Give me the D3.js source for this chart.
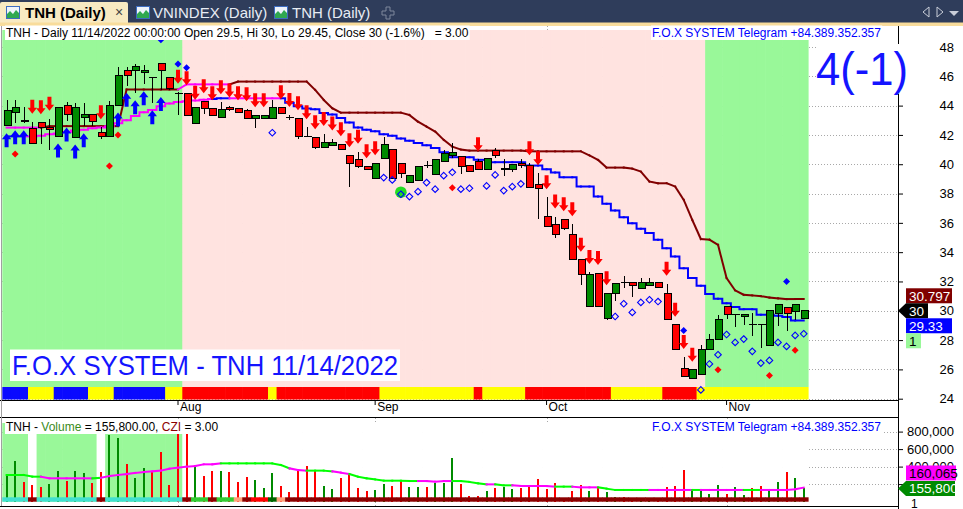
<!DOCTYPE html>
<html>
<head>
<meta charset="utf-8">
<title>TNH (Daily)</title>
<script src="https://cdn.jsdelivr.net/npm/d3@7"></script>
<style>
  html, body { margin: 0; padding: 0; background: #fff; }
  svg { display: block; font-family: "Liberation Sans", Arial, sans-serif; }
</style>
</head>
<body>
<svg id="chart" width="963" height="509"></svg>
<script>
// daily bars, Jul 4 .. Nov 14 2022
const open = [42.64, 43.52, 42.95, 42.45, 42.86, 42.48, 41.9, 44.02, 41.82, 43.18,
  43.4, 42.18, 41.89, 44.0, 46.41, 46.39, 46.27, 45.93, 46.89, 45.95,
  44.84, 44.84, 42.8, 44.3, 43.82, 43.2, 43.89, 43.82, 43.68, 43.11,
  43.11, 43.11, 43.89, 43.2, 43.14, 41.89, 41.84, 41.16, 41.3, 41.36,
  40.61, 40.3, 39.86, 39.05, 40.36, 40.98, 40.07, 38.75, 38.89, 39.93,
  39.27, 40.18, 40.59, 40.52, 39.89, 40.2, 39.61, 40.93, 39.68, 39.66,
  40.07, 39.89, 38.59, 36.43, 35.91, 36.25, 35.23, 33.48, 30.3, 32.57,
  29.5, 31.2, 31.93, 31.93, 31.55, 31.75, 31.93, 31.16, 29.05, 26.09,
  25.41, 25.64, 27.39, 28.02, 30.3, 29.73, 29.61, 29.05, 29.05, 27.61,
  29.8, 30.25, 29.95, 29.5];
const high = [44.39, 44.39, 43.9, 42.9, 42.86, 43.1, 43.86, 44.27, 44.2, 44.16,
  43.4, 42.52, 44.34, 46.66, 46.66, 46.84, 46.77, 45.93, 46.89, 45.95,
  44.95, 44.84, 43.86, 44.3, 43.82, 44.23, 44.0, 43.82, 43.75, 43.34,
  43.34, 44.39, 43.89, 43.36, 43.14, 42.52, 41.84, 42.07, 41.75, 41.36,
  40.61, 40.86, 39.86, 40.07, 41.84, 40.98, 40.07, 39.25, 39.84, 40.23,
  40.34, 40.98, 41.43, 40.52, 39.89, 40.34, 40.41, 41.09, 40.34, 40.0,
  40.34, 40.07, 39.39, 37.75, 36.43, 36.25, 35.91, 33.48, 32.64, 32.57,
  31.2, 31.89, 32.39, 31.93, 32.23, 32.23, 31.93, 31.84, 29.05, 26.84,
  25.98, 27.68, 28.43, 29.73, 30.3, 29.73, 29.77, 29.84, 29.05, 30.0,
  30.41, 30.25, 30.45, 30.0];
const low = [42.6, 42.8, 42.8, 41.43, 41.4, 41.0, 41.9, 42.98, 41.82, 42.6,
  42.6, 41.7, 41.89, 44.0, 45.36, 44.84, 45.45, 44.16, 45.07, 45.07,
  43.36, 43.3, 42.8, 43.43, 43.3, 43.2, 43.66, 43.55, 43.14, 42.5,
  43.11, 43.11, 43.43, 43.0, 41.73, 41.89, 41.05, 41.16, 41.3, 41.02,
  38.48, 39.73, 39.66, 39.05, 40.36, 39.05, 39.05, 38.75, 38.89, 39.77,
  39.27, 40.18, 40.45, 39.3, 39.5, 39.61, 39.61, 40.41, 39.2, 39.5,
  39.73, 38.43, 36.25, 35.75, 35.0, 35.52, 33.48, 31.73, 30.3, 30.3,
  29.39, 30.64, 31.55, 30.91, 31.55, 31.75, 31.61, 29.43, 27.39, 25.52,
  25.41, 25.64, 27.39, 28.02, 29.43, 28.89, 29.05, 28.25, 27.45, 27.61,
  28.93, 28.64, 29.39, 29.45];
const close = [43.64, 43.9, 42.95, 41.43, 42.52, 42.34, 43.86, 43.39, 43.86, 43.4,
  42.9, 41.89, 44.02, 46.07, 46.05, 46.7, 46.41, 45.93, 46.43, 45.18,
  44.84, 43.3, 43.86, 43.82, 43.34, 43.75, 43.75, 43.55, 43.14, 43.34,
  43.34, 43.89, 43.43, 43.2, 41.89, 41.89, 41.14, 41.5, 41.5, 41.02,
  40.07, 39.84, 39.66, 40.07, 41.36, 39.05, 39.39, 39.25, 39.84, 39.93,
  40.34, 40.75, 40.82, 39.86, 39.5, 39.63, 40.41, 40.57, 39.68, 40.0,
  39.89, 38.43, 38.36, 35.75, 35.23, 35.64, 33.48, 32.45, 32.5, 30.3,
  31.2, 31.89, 31.93, 31.75, 31.93, 31.93, 31.61, 29.43, 27.39, 25.52,
  25.98, 27.39, 28.02, 29.39, 29.73, 29.73, 29.77, 29.05, 29.05, 30.0,
  30.41, 29.8, 30.45, 30.0];
const volume = [304000, 464000, 228000, 190000, 163000, 201000, 350000, 235000, 350000, 323000,
  216000, 338000, 761000, 723000, 430000, 266000, 380000, 342000, 567000, 190000,
  773000, 773000, 418000, 293000, 350000, 350000, 342000, 228000, 285000, 247000,
  152000, 323000, 178000, 114000, 354000, 411000, 350000, 178000, 140000, 266000,
  331000, 152000, 121000, 133000, 201000, 178000, 235000, 171000, 171000, 171000,
  216000, 216000, 495000, 201000, 64000, 64000, 121000, 152000, 163000, 140000,
  152000, 171000, 254000, 140000, 209000, 26000, 121000, 186000, 121000, 163000,
  110000, 49000, 49000, 26000, 37000, 18000, 26000, 163000, 178000, 361000,
  133000, 125000, 87000, 186000, 87000, 163000, 75000, 152000, 178000, 133000,
  224000, 338000, 266000, 155800];
const volumeMA = [304000, 304000, 304000, 285000, 285000, 266000, 266000, 266000, 266000, 266000,
  266000, 273000, 292000, 304000, 315000, 327000, 338000, 346000, 354000, 376000,
  388000, 399000, 407000, 426000, 426000, 437000, 437000, 437000, 437000, 437000,
  437000, 437000, 418000, 380000, 361000, 354000, 354000, 354000, 346000, 331000,
  315000, 285000, 266000, 254000, 239000, 239000, 239000, 235000, 235000, 235000,
  228000, 235000, 235000, 235000, 224000, 209000, 197000, 197000, 186000, 186000,
  178000, 178000, 178000, 178000, 171000, 171000, 171000, 163000, 163000, 163000,
  148000, 133000, 133000, 133000, 133000, 133000, 133000, 133000, 133000, 133000,
  133000, 133000, 133000, 133000, 133000, 133000, 133000, 133000, 133000, 133000,
  133000, 133000, 140000, 160065];

// trailing stop (dark red) and stepped trend line (blue)
const stopLine = [42.5, 42.5, 42.5, 42.5, 42.5, 42.6, 42.6, 42.6, 42.6, 42.6,
  42.6, 42.6, 42.6, 42.6, 45.1, 45.1, 45.1, 45.1, 45.1, 45.1,
  45.1, 45.45, 45.45, 45.45, 45.45, 45.45, 45.45, 45.64, 45.64, 45.64,
  45.64, 45.64, 45.64, 45.64, 45.64, 45.64, 45.07, 44.39, 43.82, 43.52,
  43.52, 43.52, 43.52, 43.52, 43.52, 43.52, 43.52, 43.36, 42.9, 42.57,
  42.23, 41.66, 41.2, 41.0, 40.93, 40.93, 40.93, 40.93, 40.93, 40.93,
  40.93, 40.88, 40.88, 40.88, 40.88, 40.88, 40.88, 40.88, 40.6, 40.3,
  39.77, 39.77, 39.77, 39.7, 39.5, 38.82, 38.7, 38.7, 38.48, 37.57,
  36.2, 34.89, 34.85, 34.5, 32.23, 31.39, 31.09, 31.05, 31.0, 30.9,
  30.85, 30.8, 30.8, 30.797];
const trendLine = [41.9, 41.9, 41.9, 41.9, 41.95, 42.05, 42.1, 42.2, 42.3, 42.35,
  42.45, 42.5, 42.6, 42.8, 43.0, 43.3, 43.55, 43.7, 43.95, 44.15,
  44.25, 44.3, 44.35, 44.4, 44.45, 44.5, 44.5, 44.5, 44.5, 44.5,
  44.5, 44.5, 44.5, 44.2, 43.95, 43.8, 43.75, 43.5, 43.4, 43.15,
  42.85, 42.5, 42.35, 42.25, 42.05, 41.95, 41.75, 41.6, 41.45, 41.3,
  41.1, 40.82, 40.48, 40.48, 40.48, 40.3, 40.3, 40.14, 40.14, 40.14,
  40.14, 39.91, 39.91, 39.66, 39.43, 39.11, 39.11, 38.48, 38.48, 37.8,
  37.3, 36.84, 36.39, 35.98, 35.59, 35.3, 34.84, 34.27, 33.7, 32.9,
  32.23, 31.7, 31.14, 30.82, 30.52, 30.25, 30.11, 30.11, 29.73, 29.73,
  29.66, 29.57, 29.34, 29.33];

// per-bar states, one character per bar
const stopState   = 'MMMMMRRRRR' + 'RRRRRRRRRR' + 'RMMMMMMRRR' + 'RRRRRRRRRR' + 'RRRRRRRRRR' +
                    'RRRRRRRRRR' + 'RRRRRRRRRR' + 'RRRRRRRRRR' + 'RRRRRRRRRR' + 'RRRR';
const trendState  = 'BBBMMMMMMM' + 'MMMMMMMMMM' + 'MMMMMBBMMM' + 'MMMBBBBBBB' + 'BBBBBBBBBB' +
                    'BBBBBBBBBB' + 'BBBBBBBBBB' + 'BBBBBBBBBB' + 'BBBBBBBBBB' + 'BBBB';
const regime      = 'UUUUUUUUUU' + 'UUUUUUUUUU' + 'UDDDDDDDDD' + 'DDDDDDDDDD' + 'DDDDDDDDDD' +
                    'DDDDDDDDDD' + 'DDDDDDDDDD' + 'DDDDDDDDDD' + 'DDUUUUUUUU' + 'UUUU';
const stripState  = 'BBBYYYBBBB' + 'YYYBBBBBBY' + 'YRRRRRRRRR' + 'RYRRRRRRRR' + 'RRRRYYYYYY' +
                    'YYYYYRYYYY' + 'YRRRRRRRRR' + 'RYYYYYYRRR' + 'RYYYYYYYYY' + 'YYYY';
const volRegime   = 'GGGWGGGGGG' + 'GWGGGGGGGG' + 'GWWWWWWWWW' + 'WWWWWWWWWW' + 'WWWWWWWWWW' +
                    'WWWWWWWWWW' + 'WWWWWWWWWW' + 'WWWWWWWWWW' + 'WWWWWWWWWW' + 'WWWW';
const cziState    = 'CCCDCCCCCC' + 'CDCCCCCCCC' + 'CDLLDLLSDR' + 'RKSDDDDDDD' + 'DDDDDDDDDD' +
                    'DDDDDDDDDD' + 'DDDDDDDDDD' + 'DDDDDDDDDD' + 'DDDDDDDDDD' + 'DDDD';
const volDir      = 'UUDDDUUDUU' + 'DDUUDUUDDD' + 'DDUDDUDDDU' + 'UUDDDDDUUD' + 'DDDUUDDUUD' +
                    'UUUDDDUDUU' + 'DDDDDDDDUD' + 'UUDDUUDDDD' + 'UUUUDUUDDU' + 'UDUU';
const maState     = 'GGGGGMMMMM' + 'MGMMMMMMMM' + 'MMMMMMGGGG' + 'GGGGMMGGGM' + 'MGGGGGGGGM' +
                    'MMMGGGGMGG' + 'MMMMMGGMMM' + 'GGGGGGMMMM' + 'MGMMMMMGGM' + 'MMMM';

// signals
const sellBars = [3, 4, 5, 11, 20, 21, 22, 23, 24, 25, 26, 27, 28, 29, 30, 32, 33, 34, 35, 36,
  37, 38, 39, 40, 41, 42, 43, 55, 61, 62, 63, 64, 65, 66, 67, 68, 69, 70, 77, 78, 79, 80];
const buyBars = [0, 1, 2, 6, 7, 8, 9, 13, 14, 15, 16, 17, 18];
const blueDots = [{i: 18, p: 48.5}, {i: 20, p: 46.84}, {i: 21, p: 46.59}, {i: 79, p: 28.66}, {i: 91, p: 32.0}];
const redDots = [{i: 1, p: 40.7}, {i: 12, p: 39.88}, {i: 13, p: 42.0}, {i: 52, p: 38.4},
  {i: 83, p: 25.98}, {i: 89, p: 25.59}, {i: 92, p: 27.3}];
const hollowDots = [{i: 31, p: 42.15}, {i: 44, p: 39.09}, {i: 45, p: 38.93}, {i: 46, p: 37.95},
  {i: 47, p: 37.79}, {i: 48, p: 38.13}, {i: 49, p: 38.75}, {i: 50, p: 38.3}, {i: 51, p: 39.22},
  {i: 52, p: 39.45}, {i: 53, p: 38.3}, {i: 54, p: 38.36}, {i: 56, p: 38.52}, {i: 57, p: 39.27},
  {i: 58, p: 38.2}, {i: 59, p: 38.47}, {i: 60, p: 38.66}, {i: 71, p: 29.61}, {i: 72, p: 30.48},
  {i: 73, p: 29.89}, {i: 74, p: 30.57}, {i: 75, p: 30.75}, {i: 76, p: 30.63}, {i: 81, p: 24.6},
  {i: 82, p: 26.37}, {i: 83, p: 27.0}, {i: 84, p: 28.38}, {i: 85, p: 27.84}, {i: 86, p: 28.07},
  {i: 87, p: 27.23}, {i: 88, p: 26.43}, {i: 89, p: 26.61}, {i: 90, p: 27.84}, {i: 91, p: 27.57},
  {i: 92, p: 28.32}, {i: 93, p: 28.43}];
const greenDots = [{i: 46, p: 38.09}];

// axes
const priceTicks = [24, 26, 28, 30, 32, 34, 36, 38, 40, 42, 44, 46, 48];
const volumeTicks = [200000, 400000, 600000, 800000];
const monthBars = [20, 43, 63, 84];
const monthNames = ['Aug', 'Sep', 'Oct', 'Nov'];
const cziLast = 1;

const svg = d3.select('#chart');
const n = close.length;
const bars = d3.range(n);
const axisX = 898;

const x = d3.scaleBand().domain(bars).range([2.3, 808]);
const bw = x.bandwidth();
const cx = i => x(i) + bw / 2;
const y = d3.scaleLinear().domain([24, 48]).range([398.7, 47]);
const yVol = d3.scaleLinear().domain([0, 800000]).range([501.6, 431.6]);

const colors = {
  up: '#99f899', down: '#ffe3e0',
  strip: {B: '#0a0aff', Y: '#ffff00', R: '#ff0000'},
  czi: {C: '#40e0d0', D: '#8b0000', L: '#33cc33', S: '#ffa07a', R: '#ff0000', K: '#006400'},
  green: '#008a00', red: '#ff0000', blue: '#0000ff', maroon: '#800000', magenta: '#ff00ff', lime: '#00ff00'
};

// ---------- tab strip ----------
svg.append('rect').attr('width', 963).attr('height', 23).attr('fill', '#2f3d5b');
svg.append('path').attr('d', 'M0,23 L0,4 Q0,2 2,2 L126,2 Q128,2 128,4 L128,23 Z').attr('fill', '#f8eac2');
svg.append('rect').attr('y', 22.5).attr('width', 963).attr('height', 3.5).attr('fill', '#f8dc9b');

function tabIcon(x0) {
  const g = svg.append('g').attr('transform', `translate(${x0},6)`);
  g.append('rect').attr('x', 0.5).attr('y', 0.5).attr('width', 13).attr('height', 12)
    .attr('fill', '#eef3fb').attr('stroke', '#3d6cc0');
  g.append('path').attr('d', 'M1,12 L1,8 L4,5 L7,8 L10,4 L13,7 L13,12 Z').attr('fill', '#2fa84f');
}
tabIcon(6); tabIcon(136); tabIcon(274);
svg.append('text').attr('x', 25).attr('y', 18).attr('font-size', 15).attr('font-weight', 'bold')
  .attr('fill', '#000').text('TNH (Daily)');
svg.append('text').attr('x', 115).attr('y', 17).attr('font-size', 14).attr('fill', '#444').text('\u00d7');
svg.append('text').attr('x', 153).attr('y', 18).attr('font-size', 15).attr('fill', '#e8ecf4').text('VNINDEX (Daily)');
svg.append('text').attr('x', 292).attr('y', 18).attr('font-size', 15).attr('fill', '#e8ecf4').text('TNH (Daily)');
svg.append('path').attr('d', 'M386,7 h4 v4 h4 v4 h-4 v4 h-4 v-4 h-4 v-4 h4 Z')
  .attr('fill', 'none').attr('stroke', '#7f889c');
svg.append('path').attr('d', 'M929,7 L923,12 L929,17 Z').attr('fill', 'none').attr('stroke', '#c9ced9');
svg.append('path').attr('d', 'M937,7 L943,12 L937,17 Z').attr('fill', 'none').attr('stroke', '#c9ced9');
svg.append('path').attr('d', 'M949,11 L959,11 L954,16 Z').attr('fill', '#c9ced9');

// ---------- grid ----------
const grid = svg.append('g').attr('stroke', '#a8a8a8').attr('stroke-dasharray', '1,2');
grid.selectAll('.hp').data(priceTicks).join('line')
  .attr('x1', 2).attr('x2', axisX).attr('y1', d => Math.round(y(d)) + 0.5).attr('y2', d => Math.round(y(d)) + 0.5);
grid.selectAll('.hv').data(volumeTicks).join('line')
  .attr('x1', 2).attr('x2', axisX).attr('y1', d => Math.round(yVol(d)) + 0.5).attr('y2', d => Math.round(yVol(d)) + 0.5);
monthBars.forEach(i => {
  grid.append('line').attr('x1', Math.round(cx(i)) + 0.5).attr('x2', Math.round(cx(i)) + 0.5).attr('y1', 26).attr('y2', 400);
  grid.append('line').attr('x1', Math.round(cx(i)) + 0.5).attr('x2', Math.round(cx(i)) + 0.5).attr('y1', 418).attr('y2', 506);
});

// ---------- price panel ----------
svg.append('g').selectAll('rect').data(bars).join('rect')
  .attr('x', i => x(i)).attr('width', bw + 0.6).attr('y', 30).attr('height', 357)
  .attr('fill', i => regime[i] === 'U' ? colors.up : colors.down);

svg.append('g').selectAll('rect').data(bars).join('rect')
  .attr('x', i => x(i)).attr('width', bw + 0.6).attr('y', 387).attr('height', 12.5)
  .attr('fill', i => colors.strip[stripState[i]]);

function segments(values, state, colorOf, curve, yScale) {
  const g = svg.append('g').attr('fill', 'none').attr('stroke-width', 2).attr('stroke-linecap', 'square');
  const line = d3.line().x(d => cx(d)).y(d => yScale(values[d])).curve(curve);
  for (let i = 1; i < n; i++) {
    g.append('path').attr('d', line([i - 1, i])).attr('stroke', colorOf(state[i]));
  }
}
segments(stopLine, stopState, s => s === 'M' ? colors.magenta : colors.maroon, d3.curveLinear, y);
segments(trendLine, trendState, s => s === 'M' ? colors.magenta : colors.blue, d3.curveStep, y);

// candles
const candles = svg.append('g').attr('shape-rendering', 'crispEdges');
bars.forEach(i => {
  const xc = Math.round(cx(i)) + 0.5;
  candles.append('line').attr('x1', xc).attr('x2', xc).attr('y1', y(high[i])).attr('y2', y(low[i]))
    .attr('stroke', '#000');
  if (open[i] === close[i]) {
    candles.append('line').attr('x1', xc - 4).attr('x2', xc + 4).attr('y1', y(open[i])).attr('y2', y(open[i]))
      .attr('stroke', '#000').attr('stroke-width', 1.5);
  } else {
    const top = y(Math.max(open[i], close[i]));
    const bot = y(Math.min(open[i], close[i]));
    candles.append('rect').attr('x', xc - 3.5).attr('width', 7).attr('y', top).attr('height', Math.max(bot - top, 2))
      .attr('fill', close[i] > open[i] ? colors.green : colors.red).attr('stroke', '#000');
  }
});

// shapes
const shapes = svg.append('g');
const diamond = (g, d, r) => g.append('path')
  .attr('d', `M${cx(d.i)},${y(d.p) - r} L${cx(d.i) + r},${y(d.p)} L${cx(d.i)},${y(d.p) + r} L${cx(d.i) - r},${y(d.p)} Z`);
greenDots.forEach(d => shapes.append('circle').attr('cx', cx(d.i)).attr('cy', y(d.p)).attr('r', 5.8).attr('fill', '#22dd22'));
hollowDots.forEach(d => diamond(shapes, d, 3.3).attr('fill', 'none').attr('stroke', colors.blue).attr('stroke-width', 1.1));
sellBars.forEach(i => {
  const c = cx(i), t = y(high[i]) - 8;
  shapes.append('path').attr('fill', colors.red)
    .attr('d', `M${c - 2},${t - 14} L${c + 2},${t - 14} L${c + 2},${t - 6} L${c + 4.7},${t - 6} L${c},${t} L${c - 4.7},${t - 6} L${c - 2},${t - 6} Z`);
});
buyBars.forEach(i => {
  const c = cx(i), t = y(low[i]) + 7;
  shapes.append('path').attr('fill', colors.blue)
    .attr('d', `M${c - 2},${t + 14} L${c + 2},${t + 14} L${c + 2},${t + 6} L${c + 4.7},${t + 6} L${c},${t} L${c - 4.7},${t + 6} L${c - 2},${t + 6} Z`);
});
blueDots.forEach(d => diamond(shapes, d, 3.5).attr('fill', colors.blue));
redDots.forEach(d => diamond(shapes, d, 3.5).attr('fill', colors.red));

// header texts with white backing
function boxed(x0, y0, size, fill, parts, pad, fitWidth) {
  const g = svg.append('g');
  const t = g.append('text').attr('x', x0).attr('y', y0).attr('font-size', size).style('white-space', 'pre');
  if (fitWidth) t.attr('textLength', fitWidth).attr('lengthAdjust', 'spacingAndGlyphs');
  parts.forEach(p => t.append('tspan').attr('fill', p[1] || fill).text(p[0]));
  const b = t.node().getBBox();
  g.insert('rect', 'text').attr('x', b.x - pad).attr('y', b.y - 0.5).attr('width', b.width + pad * 2)
    .attr('height', b.height + 0.5).attr('fill', '#fff');
  return g;
}
const last = n - 1;
boxed(6, 37, 12, '#000', [[`TNH - Daily 11/14/2022 00:00:00 Open ${open[last]}, Hi ${high[last]}, Lo ${low[last]}, Close ${close[last]} (-1.6%)   = 3.00`]], 1);
boxed(652, 37, 12, '#0000ff', [['F.O.X SYSTEM Telegram +84.389.352.357']], 1);
boxed(12, 375, 28, '#1414ff', [['F.O.X SYSTEM - TNH 11/14/2022']], 2, 386);
boxed(816, 85, 46, '#1414ff', [['4(-1)']], 0, 92);

// ---------- x axis strip ----------
const xAxis = d3.axisBottom(x).tickValues(monthBars).tickSize(5).tickFormat((d, k) => monthNames[k]);
svg.append('g').attr('transform', 'translate(0,400)').call(xAxis)
  .call(g => g.select('.domain').remove())
  .call(g => g.selectAll('text').attr('text-anchor', 'start').attr('x', 2).attr('y', 11).attr('dy', 0)
    .attr('font-size', 12).attr('font-family', '"Liberation Sans", Arial, sans-serif').attr('fill', '#000'));

// ---------- volume panel ----------
svg.append('g').selectAll('rect').data(bars).join('rect')
  .attr('x', i => x(i)).attr('width', bw + 0.6).attr('y', 423).attr('height', 78.7)
  .attr('fill', i => volRegime[i] === 'G' ? colors.up : '#fff');
svg.append('g').attr('shape-rendering', 'crispEdges').selectAll('rect').data(bars).join('rect')
  .attr('x', i => Math.round(cx(i)) - 1).attr('width', 2)
  .attr('y', i => yVol(volume[i])).attr('height', i => yVol(0) - yVol(volume[i]))
  .attr('fill', i => volDir[i] === 'U' ? colors.green : colors.red);
svg.append('g').selectAll('rect').data(bars).join('rect')
  .attr('x', i => x(i)).attr('width', bw + 0.6).attr('y', 497.3).attr('height', 4.4)
  .attr('fill', i => colors.czi[cziState[i]]);
segments(volumeMA, maState, s => s === 'M' ? colors.magenta : colors.lime, d3.curveLinear, yVol);

boxed(6, 431, 12, '#000', [['TNH - '], ['Volume', '#3a8a1a'], [` = ${d3.format(',.2f')(volume[last])}, `], ['CZI', '#8b0000'], [' = 3.00']], 1);
boxed(652, 431, 12, '#0000ff', [['F.O.X SYSTEM Telegram +84.389.352.357']], 1);

// ---------- frame lines ----------
const frame = svg.append('g').attr('stroke', '#000').attr('shape-rendering', 'crispEdges');
frame.append('line').attr('x1', 0).attr('x2', axisX).attr('y1', 400.5).attr('y2', 400.5);
frame.append('line').attr('x1', 0).attr('x2', axisX).attr('y1', 417.5).attr('y2', 417.5);
frame.append('line').attr('x1', 0).attr('x2', axisX).attr('y1', 506.5).attr('y2', 506.5);
frame.append('line').attr('x1', axisX + 0.5).attr('x2', axisX + 0.5).attr('y1', 26).attr('y2', 44);
frame.append('line').attr('x1', axisX + 0.5).attr('x2', axisX + 0.5).attr('y1', 94).attr('y2', 509);
frame.append('line').attr('x1', 1.5).attr('x2', 1.5).attr('y1', 26).attr('y2', 506).attr('stroke', '#a0a0a0');

// ---------- right axes ----------
const yAxis = d3.axisRight(y).tickValues(priceTicks).tickSize(5).tickFormat(d3.format('d'));
svg.append('g').attr('transform', `translate(${axisX},0)`).call(yAxis)
  .call(g => g.select('.domain').remove())
  .call(g => g.selectAll('.tick').filter(d => y(d) > 44 && y(d) < 94).select('line').remove())
  .call(g => g.selectAll('text').attr('x', 56).attr('text-anchor', 'end').attr('font-size', 13)
    .attr('font-family', '"Liberation Sans", Arial, sans-serif').attr('fill', '#000'));
// the 200,000 label sits under the value boxes, so only the tick is kept
const vAxis = d3.axisRight(yVol).tickValues(volumeTicks).tickSize(5)
  .tickFormat(d => d === 200000 ? '' : d3.format(',')(d));
svg.append('g').attr('transform', `translate(${axisX},0)`).call(vAxis)
  .call(g => g.select('.domain').remove())
  .call(g => g.selectAll('text').attr('x', 56).attr('text-anchor', 'end').attr('font-size', 13)
    .attr('font-family', '"Liberation Sans", Arial, sans-serif').attr('fill', '#000'));
svg.append('text').attr('x', 911).attr('y', 507.5).attr('font-size', 12).attr('fill', '#000').text('1');

// value labels on the axis
function valueBox(cy, text, bg, fg, pointer, width) {
  const g = svg.append('g');
  const h = 15, top = cy - h / 2;
  if (pointer) {
    g.append('path').attr('d', `M${axisX},${cy} L${axisX + 8},${top} L${axisX + 8 + width},${top} L${axisX + 8 + width},${top + h} L${axisX + 8},${top + h} Z`)
      .attr('fill', bg);
    g.append('text').attr('x', axisX + 11).attr('y', cy + 5).attr('font-size', 13.5).attr('fill', fg).text(text);
  } else {
    g.append('rect').attr('x', 906).attr('y', top).attr('width', width).attr('height', h).attr('fill', bg);
    g.append('text').attr('x', 909).attr('y', cy + 5).attr('font-size', 13.5).attr('fill', fg).text(text);
  }
}
const closeY = y(close[last]);
valueBox(Math.min(y(stopLine[last]), closeY - 15), d3.format('.3f')(stopLine[last]), colors.maroon, '#fff', false, 46);
valueBox(closeY, d3.format('d')(close[last]), '#000', '#fff', true, 22);
const trendY = Math.max(y(trendLine[last]), closeY + 15);
valueBox(trendY, d3.format('.2f')(trendLine[last]), colors.blue, '#fff', false, 46);
valueBox(trendY + 15, String(cziLast), colors.up, '#000', false, 15);

const volY = yVol(volume[last]) + 0.5;
valueBox(Math.min(yVol(volumeMA[last]), volY - 15.5), d3.format(',')(volumeMA[last]), colors.magenta, '#000', false, 50);
valueBox(volY, d3.format(',')(volume[last]), colors.green, '#fff', true, 49);
</script>
</body>
</html>
